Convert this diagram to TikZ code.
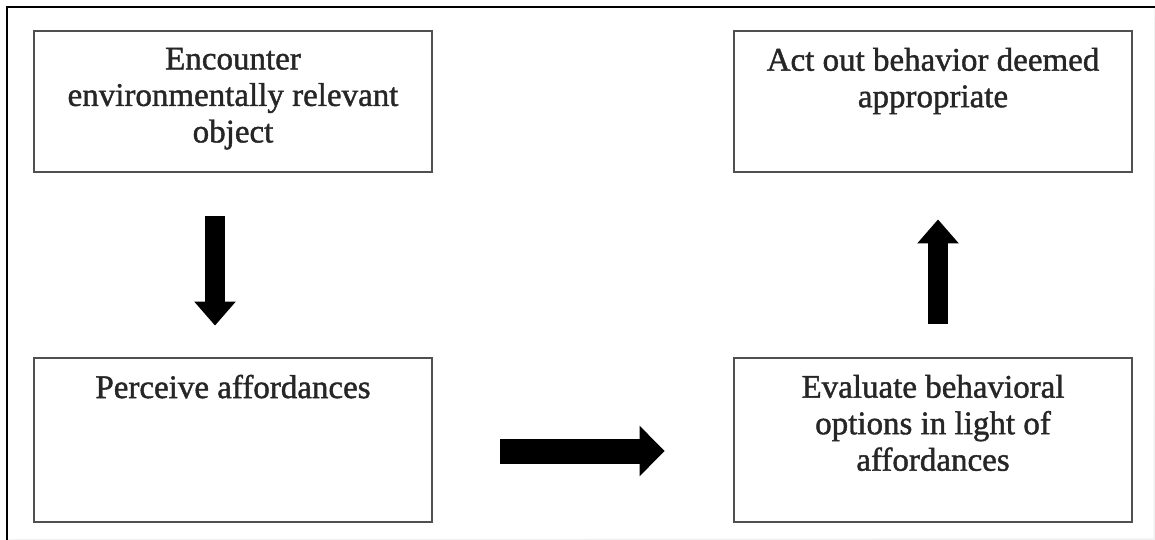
\documentclass[tikz,border=0pt]{standalone}
\usepackage{fontspec}
\setmainfont{Liberation Serif}
\newfontfamily\heavyserif{Liberation Serif}[FakeBold=1.3]
\usetikzlibrary{arrows.meta}
\definecolor{boxgray}{HTML}{505050}
\definecolor{txtgray}{HTML}{262626}
\tikzset{
  box/.style={draw=boxgray, line width=2.8pt, minimum width=398pt, minimum height=141pt, inner sep=0pt},
  tallbox/.style={box, minimum height=164pt},
  txt/.style={text=txtgray, align=center, inner sep=0pt, anchor=north, font=\heavyserif\fontsize{33}{36.5}\selectfont},
  vblock/.style={line width=20pt, -{Triangle[length=24pt,width=40pt]}},
  hblock/.style={line width=25pt, -{Triangle[length=25pt,width=49pt]}},
  frame/.style={line width=2.5pt, black}
}
\begin{document}
\begin{tikzpicture}[x=1pt,y=-1pt]
\useasboundingbox (0,0) rectangle (1155,540);
% outer frame
\coordinate (fbl) at (7,540);
\coordinate (ftl) at (7,7);
\coordinate (ftr) at (1155,7);
\coordinate (fbr) at (1154,539);
\draw[gray!12, line width=1.5pt] (fbl) -- (fbr) -- (ftr);
\draw[frame] (fbl) -- (ftl) -- (ftr);
% boxes
\node[box] (b1) at (233,101.5) {};
\node[box] (b2) at (933,101.5) {};
\node[tallbox] (b3) at (233,440) {};
\node[tallbox] (b4) at (933,440) {};
% texts
\node[txt] (t1) at ([yshift=-18pt]b1.north) {Encounter\\environmentally relevant\\object};
\node[txt] (t2) at ([yshift=-18pt]b2.north) {Act out behavior deemed\\appropriate};
\node[txt] (t3) at ([yshift=-18pt]b3.north) {Perceive affordances};
\node[txt] (t4) at ([yshift=-18pt]b4.north) {Evaluate behavioral\\options in light of\\affordances};
% block arrows
\draw[vblock] ([xshift=-18pt,yshift=-43pt]b1.south) -- ([xshift=-18pt,yshift=31pt]b3.north);
\draw[hblock] ([xshift=67pt,yshift=-11pt]b3.east) -- ([xshift=-68pt,yshift=-11pt]b4.west);
\draw[vblock] ([xshift=5pt,yshift=33pt]b4.north) -- ([xshift=5pt,yshift=-46pt]b2.south);
\end{tikzpicture}
\end{document}
